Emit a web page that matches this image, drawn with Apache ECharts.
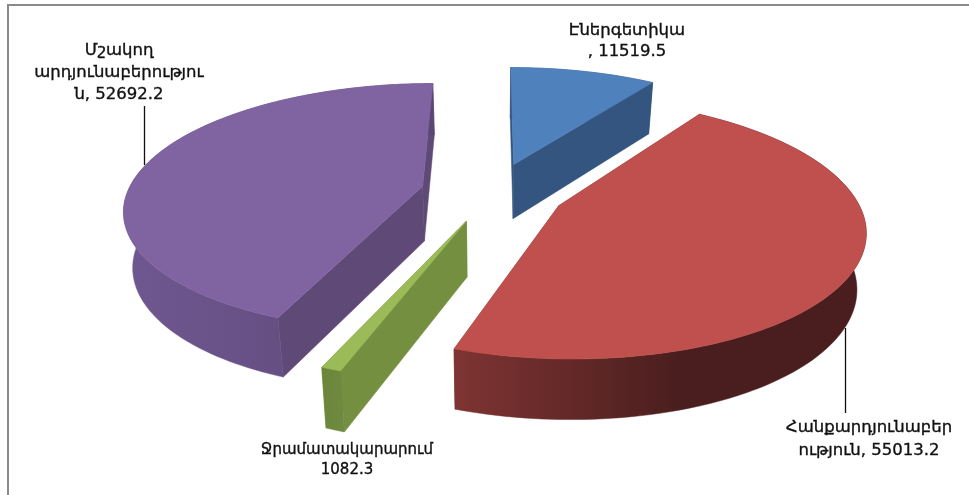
<!DOCTYPE html>
<html>
<head>
<meta charset="utf-8">
<style>
  html, body { margin: 0; padding: 0; background: #fff; }
  #chart { width: 969px; height: 495px; }
</style>
<script src="https://cdn.jsdelivr.net/npm/echarts@6/dist/echarts.min.js"></script>
</head>
<body>
<div id="chart"></div>
<script>
const names = ['Էներգետիկա', 'Հանքարդյունաբերություն', 'Ջրամատակարարում', 'Մշակող արդյունաբերություն'];
const values = [11519.5, 55013.2, 1082.3, 52692.2];
const labelLines = [
  ['Էներգետիկա', ', 11519.5'],
  ['Հանքարդյունաբեր', 'ություն, 55013.2'],
  ['Ջրամատակարարում', '1082.3'],
  ['Մշակող', 'արդյունաբերությու', 'ն, 52692.2']
];
const topColors = ['#4f81bd', '#c0504d', '#9bbb59', '#8064a2'];
const wallColors = ['#34557f', '#7e3432', '#748f3f', '#5f4977'];
const rimFrom = ['#34557f', '#7e3432', '#6b8539', '#6f5890'];
const rimTo = ['#34557f', '#4a1e1e', '#6f8a40', '#5c4675'];
const labelX = [627, 869, 347, 119];
const labelY = [20, 416, 440, 40];
const labelSize = [16.5, 16.5, 15, 16.5];
const labelLeading = [21, 23, 20, 22];
const drawOrder = [0, 3, 2, 1];

// projection of the tilted disc
const CX = 493, CY = 192, SX = 295, SY = 122, PERSP = 0.17, EXPLODE = 0.245;
const total = values.reduce((a, b) => a + b, 0);

function sliceAngles(i) {
  let start = 0;
  for (let k = 0; k < i; k++) start += values[k] / total * Math.PI * 2;
  return [start, start + values[i] / total * Math.PI * 2];
}

// returns top and bottom screen points of a disc point
function project(mid, x, y) {
  const tx = x + Math.sin(mid) * EXPLODE;
  const ty = y - Math.cos(mid) * EXPLODE;
  const d = 1 - PERSP * ty;
  const sx = SX * tx / d, sy = SY * ty / d;
  return {
    top: [CX + sx, CY + sy],
    bottom: [CX + sx * 0.975, CY + sy + 31 + 24 / d]
  };
}

function renderSlice(params) {
  const i = drawOrder[params.dataIndex];
  const [a0, a1] = sliceAngles(i);
  const mid = (a0 + a1) / 2;
  const apex = project(mid, 0, 0);
  const rim = [];
  const n = Math.max(4, Math.ceil((a1 - a0) * 40));
  for (let k = 0; k <= n; k++) {
    const a = a0 + (a1 - a0) * k / n;
    rim.push(project(mid, Math.sin(a), -Math.cos(a)));
  }
  const first = rim[0], last = rim[n];
  const xs = rim.map(p => p.top[0]);
  const rimFill = {
    type: 'linear', global: true,
    x: Math.max(...xs), y: 0, x2: Math.min(...xs), y2: 0,
    colorStops: i === 1
      ? [{ offset: 0, color: rimTo[i] }, { offset: 0.45, color: rimTo[i] }, { offset: 1, color: rimFrom[i] }]
      : [{ offset: 0, color: rimTo[i] }, { offset: 1, color: rimFrom[i] }]
  };
  const poly = (points, fill) => ({
    type: 'polygon',
    shape: { points },
    style: { fill, stroke: fill, lineWidth: 0.5 }
  });
  return {
    type: 'group',
    children: [
      poly([apex.top, first.top, first.bottom, apex.bottom], wallColors[i]),
      poly([apex.top, last.top, last.bottom, apex.bottom], wallColors[i]),
      poly(rim.map(p => p.top).concat(rim.map(p => p.bottom).reverse()), rimFill),
      poly([apex.top].concat(rim.map(p => p.top)), topColors[i])
    ]
  };
}

function renderLabel(params) {
  const i = params.dataIndex;
  return {
    type: 'text',
    style: {
      x: labelX[i],
      y: labelY[i],
      text: labelLines[i].join('\n'),
      font: labelSize[i] + 'px "DejaVu Sans"',
      lineHeight: labelLeading[i],
      fill: '#111',
      stroke: '#111',
      lineWidth: 0.35,
      align: 'center',
      verticalAlign: 'top'
    }
  };
}

const chart = echarts.init(document.getElementById('chart'), null, { renderer: 'canvas' });
chart.setOption({
  animation: false,
  backgroundColor: '#fff',
  graphic: [
    { type: 'polyline', shape: { points: [[8, 495], [8, 5], [969, 5]] }, style: { fill: 'none', stroke: '#8a8a8a', lineWidth: 2 } },
    { type: 'line', shape: { x1: 144.5, y1: 106, x2: 144.5, y2: 165 }, style: { stroke: '#111', lineWidth: 1.3 }, z: 5 },
    { type: 'line', shape: { x1: 845.5, y1: 328, x2: 845.5, y2: 413 }, style: { stroke: '#111', lineWidth: 1.3 }, z: 5 }
  ],
  series: [
    {
      type: 'custom',
      coordinateSystem: 'none',
      renderItem: renderSlice,
      data: drawOrder.map(i => ({ name: names[i], value: values[i] })),
      silent: true,
      z: 2
    },
    {
      type: 'custom',
      coordinateSystem: 'none',
      renderItem: renderLabel,
      data: names.map((n, i) => ({ name: n, value: values[i] })),
      silent: true,
      z: 3
    }
  ]
});
</script>
</body>
</html>
